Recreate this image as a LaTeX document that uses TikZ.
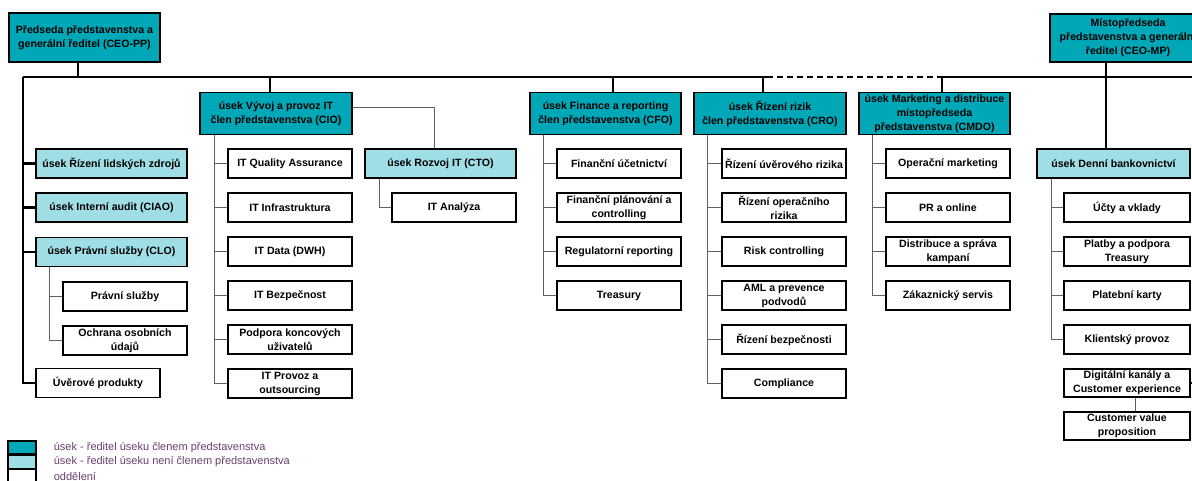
\documentclass[tikz,border=0pt]{standalone}
\usepackage{fontspec}
\setmainfont{Liberation Sans}
\usetikzlibrary{positioning}
\definecolor{tealdark}{HTML}{00A7B7}
\definecolor{teallight}{HTML}{9EDEE4}
\definecolor{legendtxt}{HTML}{6A3D6F}
\definecolor{twiggray}{HTML}{606060}

\tikzset{
  orgbox/.style={draw=black, line width=1.6pt, rectangle, inner sep=0pt, align=center,
    font=\fontsize{10.6}{14}\selectfont\bfseries},
  boardbox/.style={orgbox, fill=tealdark, minimum width=151pt, minimum height=42pt},
  divbox/.style={orgbox, fill=teallight, minimum width=151pt, minimum height=29pt},
  deptbox/.style={orgbox, fill=white, minimum width=124pt, minimum height=29pt},
  trunk/.style={line width=2.2pt, black},
  twig/.style={line width=0.9pt, twiggray},
  legbox/.style={draw=black, line width=1.3pt, minimum width=28pt, minimum height=13pt, inner sep=0pt},
  legtext/.style={font=\fontsize{11}{13}\selectfont, text=legendtxt, inner sep=0pt}
}

\begin{document}
\begin{tikzpicture}[x=1pt, y=-1pt]
\useasboundingbox (0,0) rectangle (1192,480);
\clip (0,0) rectangle (1192,480);

% top management
\node[boardbox, minimum width=151pt, minimum height=49pt] (ceopp) at (84.5,37.5) {Předseda představenstva a\\generální ředitel (CEO-PP)};
\node[boardbox, minimum width=156pt, minimum height=48pt] (ceomp) at (1128,38) {Místopředseda\\představenstva a generální\\ředitel (CEO-MP)};

% main bus
\coordinate (busL) at (23,77);
\coordinate (busD1) at (767,77);
\coordinate (busD2) at (937,77);
\coordinate (busR) at (1200,77);
\draw[trunk] (busL) -- (busD1);
\draw[trunk, dash pattern=on 6pt off 4pt] (busD1) -- (busD2);
\draw[trunk] (busD2) -- (busR);
\draw[trunk] ([xshift=-6.5pt]ceopp.south) -- ([xshift=-6.5pt]ceopp.south |- busL);

% left column under CEO-PP
\node[divbox] (hr) at (111.5,163.5) {úsek Řízení lidských zdrojů};
\node[divbox] (audit) at (111.5,207.5) {úsek Interní audit (CIAO)};
\node[divbox] (clo) at (111.5,252) {úsek Právní služby (CLO)};
\node[deptbox] (clo1) at (125,296.5) {Právní služby};
\node[deptbox] (clo2) at (125,340.5) {Ochrana osobních\\údajů};
\node[deptbox] (uver) at (98,383) {Úvěrové produkty};
\draw[trunk] (busL) |- (uver.west);
\foreach \n in {hr,audit,clo}
  \draw[trunk] (busL |- \n.west) -- (\n.west);
\foreach \n in {clo1,clo2}
  \draw[twig] ([xshift=14.5pt]clo.south west) |- (\n.west);

% CIO
\node[boardbox, minimum width=152pt] (cio) at (276,113.5) {úsek Vývoj a provoz IT\\člen představenstva (CIO)};
\draw[trunk] ([xshift=-6pt]cio.north) -- ([xshift=-6pt]cio.north |- busL);
\foreach \t [count=\i] in {IT Quality Assurance, IT Infrastruktura, IT Data (DWH), IT Bezpečnost, {Podpora koncových\\uživatelů}, {IT Provoz a\\outsourcing}} {
  \node[deptbox] (cio-\i) at (290,{119.5+44*\i}) {\t};
  \draw[twig] ([xshift=15pt]cio.south west) |- (cio-\i.west);
}

% CTO
\node[divbox] (cto) at (440.5,163.5) {úsek Rozvoj IT (CTO)};
\node[deptbox] (cto-1) at (454,207.5) {IT Analýza};
\draw[twig] ([yshift=6pt]cio.east) -| ([xshift=-6.5pt]cto.north);
\draw[twig] ([xshift=15pt]cto.south west) |- (cto-1.west);

% CFO
\node[boardbox] (cfo) at (605.5,113.5) {úsek Finance a reporting\\člen představenstva (CFO)};
\draw[trunk] ([xshift=7.5pt]cfo.north) -- ([xshift=7.5pt]cfo.north |- busL);
\foreach \t [count=\i] in {Finanční účetnictví, {Finanční plánování a\\controlling}, Regulatorní reporting, Treasury} {
  \node[deptbox] (cfo-\i) at (619,{119.5+44*\i}) {\t};
  \draw[twig] ([xshift=14pt]cfo.south west) |- (cfo-\i.west);
}

% CRO
\node[boardbox, minimum width=152pt] (cro) at (770,113.5) {úsek Řízení rizik\\člen představenstva (CRO)};
\draw[trunk] ([xshift=-7pt]cro.north) -- ([xshift=-7pt]cro.north |- busL);
\foreach \t [count=\i] in {Řízení úvěrového rizika, {Řízení operačního\\rizika}, Risk controlling, {AML a prevence\\podvodů}, Řízení bezpečnosti, Compliance} {
  \node[deptbox] (cro-\i) at (784,{119.5+44*\i}) {\t};
  \draw[twig] ([xshift=14pt]cro.south west) |- (cro-\i.west);
}

% CMDO
\node[boardbox] (cmdo) at (934.5,113.5) {úsek Marketing a distribuce\\místopředseda\\představenstva (CMDO)};
\draw[trunk] ([xshift=7.5pt]cmdo.north) -- ([xshift=7.5pt]cmdo.north |- busL);
\foreach \t [count=\i] in {Operační marketing, PR a online, {Distribuce a správa\\kampaní}, Zákaznický servis} {
  \node[deptbox] (cmdo-\i) at (948,{119.5+44*\i}) {\t};
  \draw[twig] ([xshift=14pt]cmdo.south west) |- (cmdo-\i.west);
}

% denni bankovnictvi under CEO-MP
\node[divbox, minimum width=153pt] (dbank) at (1113.5,163.5) {úsek Denní bankovnictví};
\draw[trunk] ([xshift=-22pt]ceomp.south) -- ([xshift=-22pt]ceomp.south |- dbank.north);
\foreach \t [count=\i] in {Účty a vklady, {Platby a podpora\\Treasury}, Platební karty, Klientský provoz} {
  \node[deptbox, minimum width=126pt] (dbank-\i) at (1127,{163.5+44*\i}) {\t};
  \draw[twig] ([xshift=15pt]dbank.south west) |- (dbank-\i.west);
}
\node[deptbox, minimum width=126pt, minimum height=28pt] (digi) at (1127,383) {Digitální kanály a\\Customer experience};
\node[deptbox, minimum width=126pt, minimum height=28pt] (cvp) at (1127,426) {Customer value\\proposition};
\coordinate (digiR) at (1200,383);
\draw[trunk] (digi.east) -- (digiR);
\draw[twig] ([xshift=8pt]digi.south) -- ([xshift=8pt]cvp.north);

% legend
\node[legbox, fill=tealdark] (lg1) at (22,447.5) {};
\node[legbox, fill=teallight, below=0pt of lg1] (lg2) {};
\node[legbox, fill=white, below=0pt of lg2] (lg3) {};
\node[legtext, right=17pt of lg1] {úsek - ředitel úseku členem představenstva};
\node[legtext, right=17pt of lg2] {úsek - ředitel úseku není členem představenstva};
\node[legtext, right=17pt of lg3] {oddělení};
\end{tikzpicture}
\end{document}
